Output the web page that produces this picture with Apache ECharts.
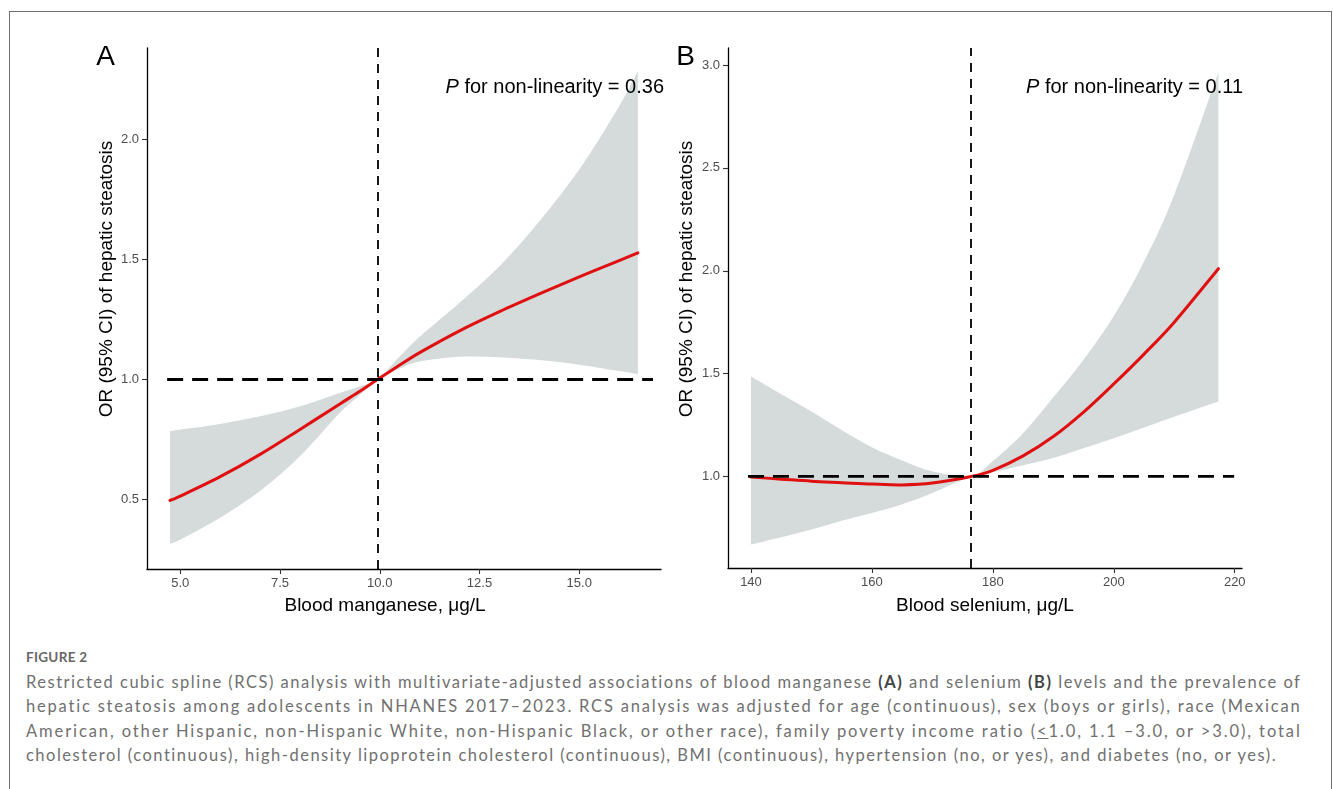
<!DOCTYPE html>
<html>
<head>
<meta charset="utf-8">
<script src="https://cdn.jsdelivr.net/npm/echarts@6/dist/echarts.min.js"></script>
<style>
  html, body { margin:0; padding:0; background:#fff; width:1333px; height:789px; overflow:hidden; }
  #frame { position:absolute; left:9px; top:11px; width:1321px; height:800px; border:1px solid #707070; border-bottom:none; }
  #chart { position:absolute; left:0; top:0; width:1333px; height:640px; }
  .cap { position:absolute; left:26px; white-space:nowrap; font-family:'Lato', 'Open Sans', sans-serif; font-size:16.5px; line-height:20px; color:#707070; }
  .cap b { font-weight:700; color:#444; }
  #fig { position:absolute; left:26px; font-family:'Lato', sans-serif; font-size:13.5px; font-weight:700; color:#666; letter-spacing:0.3px; line-height:20px; }
</style>
</head>
<body>
<div id="frame"></div>
<div id="chart"></div>
<div id="fig" style="top:647px;">FIGURE 2</div>
<div class="cap" data-w="1276" style="top:672px;">Restricted cubic spline (RCS) analysis with multivariate-adjusted associations of blood manganese <b>(A)</b> and selenium <b>(B)</b> levels and the prevalence of</div>
<div class="cap" data-w="1276" style="top:696px;">hepatic steatosis among adolescents in NHANES 2017–2023. RCS analysis was adjusted for age (continuous), sex (boys or girls), race (Mexican</div>
<div class="cap" data-w="1276" style="top:721px;">American, other Hispanic, non-Hispanic White, non-Hispanic Black, or other race), family poverty income ratio (<u>&lt;</u>1.0, 1.1 –3.0, or &gt;3.0), total</div>
<div class="cap" data-w="1252" style="top:745px;">cholesterol (continuous), high-density lipoprotein cholesterol (continuous), BMI (continuous), hypertension (no, or yes), and diabetes (no, or yes).</div>
<script>
// ---------- Panel A: blood manganese ----------
const xA  = [4.74, 5,     6,     7,     8,     9,     9.5,   9.94, 10.5,  11,    12,    13,    14,    15,    16,    16.47];
const orA = [0.496,0.514, 0.595, 0.688, 0.792, 0.898, 0.951, 1.0,  1.06,  1.112, 1.203, 1.283, 1.357, 1.428, 1.496, 1.528];
const upA = [0.785,0.792, 0.815, 0.847, 0.889, 0.944, 0.972, 1.0,  1.096, 1.178, 1.32,  1.472, 1.66,  1.875, 2.139, 2.285];
const loA = [0.315,0.333, 0.424, 0.535, 0.68,  0.861, 0.935, 1.0,  1.046, 1.075, 1.095, 1.093, 1.081, 1.062, 1.035, 1.022];
const knotA = 9.94;
const hlineA = [4.67, 16.85];
const xTicksA = [5, 7.5, 10, 12.5, 15];
const yTicksA = [0.5, 1.0, 1.5, 2.0];
const xRangeA = [4.165, 17.05];
const yRangeA = [0.21, 2.382];

// ---------- Panel B: blood selenium ----------
const xB  = [140,   145,   150,   155,   160,   165,   170,   176.4, 180,   185,   190,   195,   200,   205,   210,   217.3];
const orB = [0.997, 0.987, 0.977, 0.970, 0.963, 0.959, 0.968, 1.0,   1.03,  1.10,  1.194, 1.313, 1.450, 1.595, 1.75,  2.01];
const upB = [1.486, 1.40,  1.316, 1.226, 1.142, 1.078, 1.025, 1.0,   1.075, 1.21,  1.385, 1.568, 1.78,  2.045, 2.37,  2.965];
const loB = [0.669, 0.705, 0.742, 0.785, 0.822, 0.865, 0.92,  1.0,   1.02,  1.055, 1.09,  1.137, 1.186, 1.238, 1.29,  1.364];
const knotB = 176.4;
const hlineB = [139.5, 219.9];
const xTicksB = [140, 160, 180, 200, 220];
const yTicksB = [1.0, 1.5, 2.0, 2.5, 3.0];
const xRangeB = [136.2, 221.2];
const yRangeB = [0.555, 3.083];

const labels = { A: 'A', B: 'B' };
const pText = { A: '0.36', B: '0.11' };
const xTitles = { A: 'Blood manganese, μg/L', B: 'Blood selenium, μg/L' };
const yTitle = 'OR (95% CI) of hepatic steatosis';

const RED = '#e01010', BAND = '#d5dbdb';
const AX_FONT = "'Liberation Sans', Arial, sans-serif";

function axis(gridIndex, range, ticks, fmt) {
  return {
    type: 'value', gridIndex, min: range[0], max: range[1],
    axisLine: { show: true, onZero: false, lineStyle: { color: '#000', width: 1.3 } },
    axisTick: { show: true, length: 5, customValues: ticks, lineStyle: { color: '#333', width: 1.1 } },
    axisLabel: { customValues: ticks, formatter: fmt, color: '#4d4d4d', fontSize: 13, fontFamily: AX_FONT, margin: 8, hideOverlap: false },
    splitLine: { show: false }
  };
}

// Catmull-Rom spline through pixel points -> SVG path commands
function splinePath(pts, moveFirst) {
  let d = (moveFirst ? 'M' : 'L') + pts[0][0] + ' ' + pts[0][1];
  for (let i = 0; i < pts.length - 1; i++) {
    const p0 = pts[Math.max(i - 1, 0)], p1 = pts[i], p2 = pts[i + 1], p3 = pts[Math.min(i + 2, pts.length - 1)];
    const c1 = [p1[0] + (p2[0] - p0[0]) / 6, p1[1] + (p2[1] - p0[1]) / 6];
    const c2 = [p2[0] - (p3[0] - p1[0]) / 6, p2[1] - (p3[1] - p1[1]) / 6];
    d += 'C' + c1[0] + ' ' + c1[1] + ' ' + c2[0] + ' ' + c2[1] + ' ' + p2[0] + ' ' + p2[1];
  }
  return d;
}

function panelSeries(idx, xs, ors, ups, los, knot, hline) {
  const rows = xs.map((x, i) => [x, los[i], ups[i], ors[i]]);
  return [
    { type: 'custom', xAxisIndex: idx, yAxisIndex: idx, data: rows, silent: true, z: 1, clip: true,
      encode: { x: 0, y: [1, 2] },
      renderItem: (params, api) => {
        if (params.dataIndex !== 0) return null;
        const top = xs.map((x, i) => api.coord([x, ups[i]]));
        const bot = xs.map((x, i) => api.coord([x, los[i]])).reverse();
        const d = splinePath(top, true) + splinePath(bot, false) + 'Z';
        return { type: 'path', shape: { pathData: d }, style: { fill: BAND, stroke: null } };
      } },
    { type: 'custom', xAxisIndex: idx, yAxisIndex: idx, data: rows, silent: true, z: 3, clip: true,
      encode: { x: 0, y: 3 },
      renderItem: (params, api) => {
        if (params.dataIndex !== 0) return null;
        const pts = xs.map((x, i) => api.coord([x, ors[i]]));
        return { type: 'path', shape: { pathData: splinePath(pts, true) },
          style: { fill: null, stroke: RED, lineWidth: 3, lineJoin: 'round', lineCap: 'round' } };
      } },
    { type: 'line', xAxisIndex: idx, yAxisIndex: idx, data: [[hline[0], 1], [hline[1], 1]],
      symbol: 'none', lineStyle: { color: '#000', width: 2.8, type: [16, 9] }, silent: true, z: 5,
      markLine: { symbol: 'none', silent: true, label: { show: false },
        lineStyle: { color: '#000', width: 1.8, type: [9, 7] },
        data: [{ xAxis: knot }] } }
  ];
}

function txt(x, y, text, size) {
  return { type: 'text', x, y, z: 10, style: { text, fontSize: size, fontFamily: AX_FONT, fill: '#000', align: 'center', verticalAlign: 'middle' } };
}
function rich(x, y, val) {
  return { type: 'text', x, y, z: 10, style: { text: '{i|P} for non-linearity = ' + val, fontSize: 20, fontFamily: AX_FONT, fill: '#000', align: 'right', verticalAlign: 'middle',
    rich: { i: { fontStyle: 'italic', fontSize: 20, fontFamily: AX_FONT, fill: '#000' } } } };
}
function rotTxt(x, y, text) {
  return { type: 'text', x, y, rotation: Math.PI / 2, z: 10, style: { text, fontSize: 19, fontFamily: AX_FONT, fill: '#000', align: 'center', verticalAlign: 'middle' } };
}

const f1 = v => v.toFixed(1);
const f0 = v => String(Math.round(v));

const chart = echarts.init(document.getElementById('chart'), null, { renderer: 'canvas' });
chart.setOption({
  animation: false,
  backgroundColor: 'transparent',
  grid: [
    { left: 147, top: 48, width: 514, height: 521 },
    { left: 728, top: 48, width: 514, height: 520 }
  ],
  xAxis: [ axis(0, xRangeA, xTicksA, f1), axis(1, xRangeB, xTicksB, f0) ],
  yAxis: [ axis(0, yRangeA, yTicksA, f1), axis(1, yRangeB, yTicksB, f1) ],
  series: [].concat(
    panelSeries(0, xA, orA, upA, loA, knotA, hlineA),
    panelSeries(1, xB, orB, upB, loB, knotB, hlineB)
  ),
  graphic: [
    txt(105.5, 57, labels.A, 28),
    txt(685.5, 57, labels.B, 28),
    rich(664, 87, pText.A),
    rich(1243, 87, pText.B),
    txt(385, 606, xTitles.A, 19),
    txt(985, 606, xTitles.B, 19),
    rotTxt(107, 279, yTitle),
    rotTxt(687, 279, yTitle)
  ]
});

document.querySelectorAll('.cap').forEach(el => {
  const target = +el.dataset.w;
  const w = el.getBoundingClientRect().width;
  const n = el.textContent.length;
  el.style.letterSpacing = ((target - w) / n) + 'px';
});
</script>
</body>
</html>
